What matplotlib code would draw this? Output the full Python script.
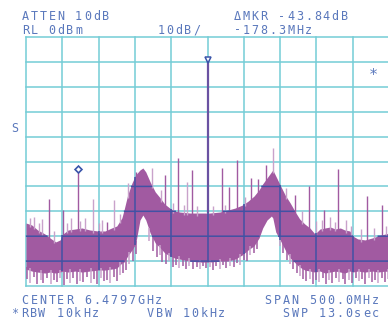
import matplotlib.pyplot as plt
import numpy as np

# trace envelope, MHz offset from center / dBm
freq = [-250, -242, -234, -224, -217, -209, -203, -199, -192, -182, -173, -162, -151, -141,
        -132, -125, -118, -115, -110, -104, -99, -93, -89, -85, -79, -72, -65, -59, -52, -45,
        -38, -24, -10, 3, 17, 28, 38, 48, 56, 64, 71, 76, 82, 88, 90, 94, 100, 107, 114, 121,
        127, 134, 141, 148, 155, 162, 169, 176, 183, 189, 196, 200, 207, 217, 227, 235, 245, 250]
upper = [-74.7, -75.5, -77.5, -79.1, -80.7, -82.3, -81.5, -79.1, -77.5, -77.1, -76.7, -77.5, -77.9, -77.9,
         -76.7, -75.9, -72.7, -69.5, -63.5, -58.6, -55.4, -53.4, -52.6, -54.2, -58.2, -62.2, -64.7, -67.1, -68.7, -69.9,
         -70.3, -70.7, -70.7, -70.7, -70.3, -69.5, -68.7, -67.5, -65.9, -63.9, -61.4, -59.0, -56.6, -54.2, -53.4, -55.8, -59.4, -63.5, -66.7, -70.3,
         -73.1, -75.1, -76.7, -79.1, -77.1, -76.7, -76.3, -77.1, -76.7, -77.5, -77.9, -79.9, -81.1, -81.5, -80.7, -79.9, -79.1, -78.7]
lower = [-93.2, -94.0, -94.4, -94.8, -94.4, -94.8, -94.4, -94.0, -94.4, -94.0, -94.4, -94.0, -93.6, -93.6,
         -93.2, -92.8, -90.8, -90.4, -88.0, -85.5, -83.1, -73.5, -71.5, -73.5, -78.7, -82.7, -84.7, -86.7, -87.9, -88.8,
         -89.2, -90.0, -90.4, -90.4, -90.0, -90.0, -89.2, -87.5, -85.5, -83.9, -80.7, -76.7, -73.5, -71.9, -72.7, -78.3, -81.5, -85.5, -88.8, -90.8,
         -92.4, -93.6, -94.0, -94.4, -94.0, -94.8, -94.4, -94.0, -94.4, -94.8, -94.0, -94.4, -94.0, -94.4, -94.0, -94.4, -94.0, -94.4]

# discrete spurs: frequency, peak level, faint (1) or solid (0)
spur_freq = [-239, -228, -218, -199, -188, -178.3, -169, -158, -138, -129, -110, -98.5, -76.4, -58.5,
             -40.6, -28, -20.7, 20, 29.6, 40, 60, 68.9, 80.6, 90.2, 120, 139.8, 160.5, 168.7, 179.7,
             190.8, 219.7, 240.4,
             -244, -232, -212, -193, -176, -150, -145, -120, -64, -47, -33, -14, 8, 24, 52, 108,
             130, 150, 158, 175, 198, 212, 230, 246]
spur_db = [-72.3, -73.1, -65.1, -69.5, -72.7, -53.44, -72.7, -65.1, -74.3, -65.5, -58.6, -54.2, -52.6, -55.4,
           -48.6, -58.2, -53.4, -52.6, -60.2, -49.4, -56.6, -57.0, -51.4, -44.6, -63.5, -59.8, -69.5, -72.3, -53.0,
           -73.5, -63.9, -67.5,
           -72.5, -74.5, -78.0, -74.5, -74.0, -74.8, -73.6, -71.0, -61.6, -66.8, -67.6, -68.0, -67.8, -67.4, -64.4, -60.6,
           -70.0, -74.0, -73.6, -74.2, -75.8, -77.0, -76.6, -75.8]
spur_faint = [1, 1, 0, 0, 1, 0, 1, 1, 0, 1, 1, 0, 1, 0,
              0, 1, 0, 0, 0, 0, 0, 0, 0, 1, 0, 0, 0, 1, 0,
              1, 0, 0,
              1, 1, 1, 1, 1, 1, 1, 1, 1, 1, 1, 1, 1, 1, 1, 1,
              1, 1, 1, 1, 1, 1, 1, 1]

# noise teeth below the floor
tooth_freq = [-248, -244, -239, -235, -230, -226, -221, -216, -212, -207, -203, -198, -194, -189, -185,
              -180, -175, -171, -166, -161, -157, -152, -147, -143, -138, -134, -129, -124, -120, -116,
              -112, -108, -103, -99, -80, -75, -70, -66, -62, -57, -53, -48, -43, -39, -34, -29, -25,
              -20, -15, -11, -6, -2, 3, 8, 12, 17, 22, 26, 31, 36, 41, 45, 50, 55, 59, 64, 68, 100,
              104, 109, 113, 118, 123, 127, 132, 136, 141, 145, 150, 154, 159, 163, 168, 172, 177,
              181, 186, 190, 195, 199, 204, 208, 213, 217, 222, 226, 231, 235, 240, 244, 248]
tooth_db = [-97.0, -98.6, -96.4, -99.0, -97.4, -98.8, -96.8, -99.2, -97.6, -98.4, -96.6, -99.4, -97.2, -98.6, -96.8,
            -99.0, -97.8, -98.2, -96.4, -98.8, -97.0, -99.0, -96.6, -98.0, -97.4, -98.8, -96.4, -97.8, -95.6, -94.8,
            -93.6, -91.2, -90.0, -87.2, -82.0, -86.0, -88.4, -87.6, -90.2, -91.0, -90.0, -92.2, -91.4, -92.6, -91.8, -93.0, -92.0,
            -93.2, -92.4, -93.0, -91.8, -92.8, -92.2, -93.4, -92.0, -93.0, -91.6, -92.8, -91.8, -92.4, -90.8, -91.6, -89.6, -89.8, -87.6, -86.8, -85.2, -84.0,
            -86.8, -89.4, -91.0, -93.0, -94.6, -95.8, -97.2, -98.0, -97.0, -99.0, -97.6, -98.4, -96.6, -99.2, -97.4, -98.8, -96.8,
            -98.2, -97.0, -99.0, -97.4, -98.6, -96.8, -98.0, -97.2, -99.0, -96.6, -98.4, -97.6, -98.8, -96.8, -98.2, -97.0]

carrier_db = -9.6

W, H = 388, 323
purple = "#a15aa1"
faint = "#c9a2cb"
cyan = "#74cdd6"
dark_grid = "#4152a4"
txt = "#5a78bc"

fig = plt.figure(figsize=(W / 100, H / 100), dpi=100)
fig.patch.set_facecolor("white")
ax = fig.add_axes([26 / W, 37 / H, 363 / W, 249 / H])
ax.set_xlim(-250, 250)
ax.set_ylim(-100, 0)
ax.axis("off")

# graticule
xg = [-250, -200, -150, -100, -50, 0, 50, 100, 150, 200]
yg = [-100, -90, -80, -70, -60, -50, -40, -30, -20, -10, 0]
for v in xg:
    ax.axvline(v, color=cyan, lw=1.1, clip_on=False, zorder=1)
for v in yg:
    ax.axhline(v, color=cyan, lw=1.1, clip_on=False, zorder=1)

# trace
ax.fill_between(freq, lower, upper, color=purple, lw=0, zorder=2)
for i, (f, d) in enumerate(zip(tooth_freq, tooth_db)):
    lo = np.interp(f, freq, lower)
    ax.plot([f, f], [lo + 1, d], color=faint if i % 3 == 1 else purple, lw=1.1,
            solid_capstyle="butt", zorder=2)
for f, d, fa in zip(spur_freq, spur_db, spur_faint):
    base = np.interp(f, freq, upper)
    ax.plot([f, f], [base - 1, d], color=faint if fa else purple, lw=1.0,
            solid_capstyle="butt", zorder=2)

# grid lines where they cross the trace turn dark blue
for v in xg[1:]:
    ax.plot([v, v], [np.interp(v, freq, lower), np.interp(v, freq, upper)],
            color=dark_grid, lw=1.1, solid_capstyle="butt", zorder=2.5)
xs = np.linspace(-250, 250, 2001)
lo_s = np.interp(xs, freq, lower)
up_s = np.interp(xs, freq, upper)
for v in yg[1:-1]:
    ys = np.where((lo_s < v) & (up_s > v), v, np.nan)
    ax.plot(xs, ys, color=dark_grid, lw=1.1, solid_capstyle="butt", zorder=2.5)

ax.plot([0, 0], [np.interp(0, freq, upper), carrier_db], color="#6a52a2", lw=1.6,
        solid_capstyle="butt", zorder=3)

# markers
ax.plot(0, carrier_db + 0.4, marker="v", ms=4.5, mfc="white", mec="#3a55aa", mew=1.1,
        clip_on=False, zorder=4)
ax.plot(-178.3, -53.44 + 0.3, marker="D", ms=3.5, mfc="white", mec="#3a55aa", mew=1.2,
        clip_on=False, zorder=4)


def mono(x, y, s, size=8.5):
    for i, ch in enumerate(s):
        fig.text((x + i * 8.9 + 3.3) / W, 1 - y / H, ch, ha="center", va="baseline",
                 family="DejaVu Sans Mono", size=size, color=txt)


mono(22, 20, "ATTEN 10dB")
mono(234, 20, "ΔMKR -43.84dB")
mono(22, 33.5, "RL 0dBm")
mono(158, 33.5, "10dB/")
mono(234, 33.5, "-178.3MHz")
mono(22, 303.5, "CENTER 6.4797GHz")
mono(265, 303.5, "SPAN 500.0MHz")
mono(12, 317, "*RBW 10kHz")
mono(147, 317, "VBW 10kHz")
mono(283, 317, "SWP 13.0sec")
mono(12, 132, "S")
mono(370, 80, "*", size=11)

fig.savefig("out.png", dpi=100)
